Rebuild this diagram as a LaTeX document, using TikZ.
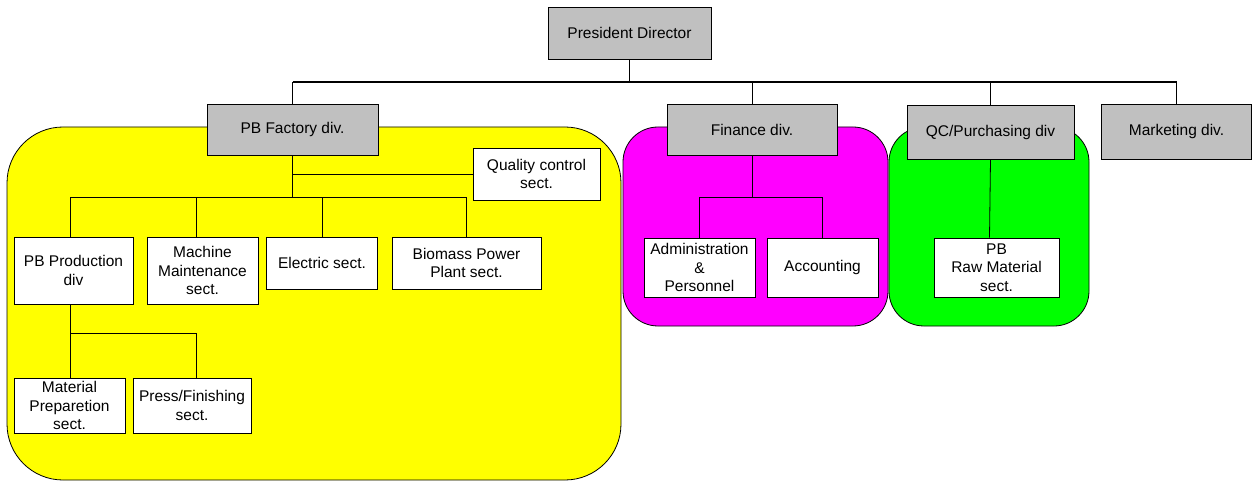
\documentclass[tikz,border=0pt]{standalone}
\usepackage{fontspec}
\setmainfont{Liberation Sans}
\begin{document}
\begin{tikzpicture}[x=1pt,y=-1pt,
  box/.style={draw=black, line width=0.8pt, fill=white, align=center, inner sep=1pt,
    font=\fontsize{15.5}{18.7}\selectfont},
  grey/.style={box, fill=boxgrey},
  link/.style={draw=black, line width=0.8pt},
  thick link/.style={draw=black, line width=1.5pt},
  region/.style={draw=black, line width=0.8pt}]
\definecolor{boxgrey}{HTML}{C0C0C0}
\definecolor{ylw}{HTML}{FFFF00}
\definecolor{mgt}{HTML}{FF00FF}
\definecolor{grn}{HTML}{00FF00}
\useasboundingbox (0,0) rectangle (1253,481);
% regions
\path[region, fill=ylw, rounded corners=56pt] (7,127) rectangle (621,480);
\path[region, fill=mgt, rounded corners=35pt] (623,127) rectangle (888,326);
\path[region, fill=grn, rounded corners=35pt] (889,127) rectangle (1089,326);
% nodes
\node[grey, minimum width=163pt, minimum height=52pt] (pres) at (629.5,33) {President Director};
\node[grey, minimum width=171pt, minimum height=51pt] (pbf) at (292.5,129.5) {PB Factory div.};
\node[grey, minimum width=170pt, minimum height=51pt] (fin) at (752,129.5) {Finance div.};
\node[grey, minimum width=167pt, minimum height=54pt] (qcp) at (990.5,132) {QC/Purchasing div};
\node[grey, minimum width=150pt, minimum height=55pt] (mkt) at (1176.5,131.5) {Marketing div.};
\node[box, minimum width=127pt, minimum height=52pt] (qcs) at (536.5,174) {Quality control\\sect.};
\node[box, minimum width=119pt, minimum height=67pt] (pbp) at (73.5,270.5) {PB Production\\div};
\node[box, minimum width=111pt, minimum height=67pt] (mms) at (202.5,270.5) {Machine\\Maintenance\\sect.};
\node[box, minimum width=111pt, minimum height=52pt] (els) at (322,263) {Electric sect.};
\node[box, minimum width=149pt, minimum height=52pt] (bio) at (466.5,263) {Biomass Power\\Plant sect.};
\node[box, minimum width=111pt, minimum height=55pt] (mat) at (69.5,405.5) {Material\\Preparetion\\sect.};
\node[box, minimum width=118pt, minimum height=55pt] (prs) at (192,405.5) {Press/Finishing\\sect.};
\node[box, minimum width=111pt, minimum height=59pt] (adm) at (699.5,267.5) {Administration\\\&\\Personnel};
\node[box, minimum width=111pt, minimum height=59pt] (acc) at (822.5,267.5) {Accounting};
\node[box, minimum width=125pt, minimum height=59pt] (raw) at (996.5,267.5) {PB\\Raw Material\\sect.};
% top level
\coordinate (bus) at (0,82);
\draw[thick link] (pres.south) -- (pres.south |- bus);
\draw[thick link] (pbf.north |- bus) -- (mkt.north |- bus);
\draw[link] (pbf.north) -- (pbf.north |- bus);
\draw[link] (fin.north) -- (fin.north |- bus);
\draw[link] (qcp.north) -- (qcp.north |- bus);
\draw[link] (mkt.north) -- (mkt.north |- bus);
% PB factory subtree
\coordinate (fbus) at (0,197);
\draw[thick link] (pbf.south) -- (pbf.south |- fbus);
\draw[link] (pbf.south |- qcs.west) -- (qcs.west);
\draw[link] ([xshift=-3.5pt]pbp.north) -- ([xshift=-3.5pt]pbp.north |- fbus) -- (bio.north |- fbus) -- (bio.north);
\draw[link] ([xshift=-6.5pt]mms.north) -- ([xshift=-6.5pt]mms.north |- fbus);
\draw[link] (els.north) -- (els.north |- fbus);
% PB production subtree
\coordinate (pbus) at (0,333);
\draw[link] ([xshift=-3.5pt]pbp.south) -- ([xshift=-3.5pt]pbp.south |- pbus) -- ([xshift=4pt]prs.north |- pbus) -- ([xshift=4pt]prs.north);
\draw[link] ([xshift=0.5pt]mat.north) -- ([xshift=0.5pt]mat.north |- pbus);
% Finance subtree
\coordinate (nbus) at (0,197);
\draw[link] (fin.south) -- (fin.south |- nbus);
\draw[link] (adm.north) -- (adm.north |- nbus) -- (acc.north |- nbus) -- (acc.north);
% QC subtree
\draw[link] (qcp.south) -- ([xshift=-7pt]raw.north);
\end{tikzpicture}
\end{document}
